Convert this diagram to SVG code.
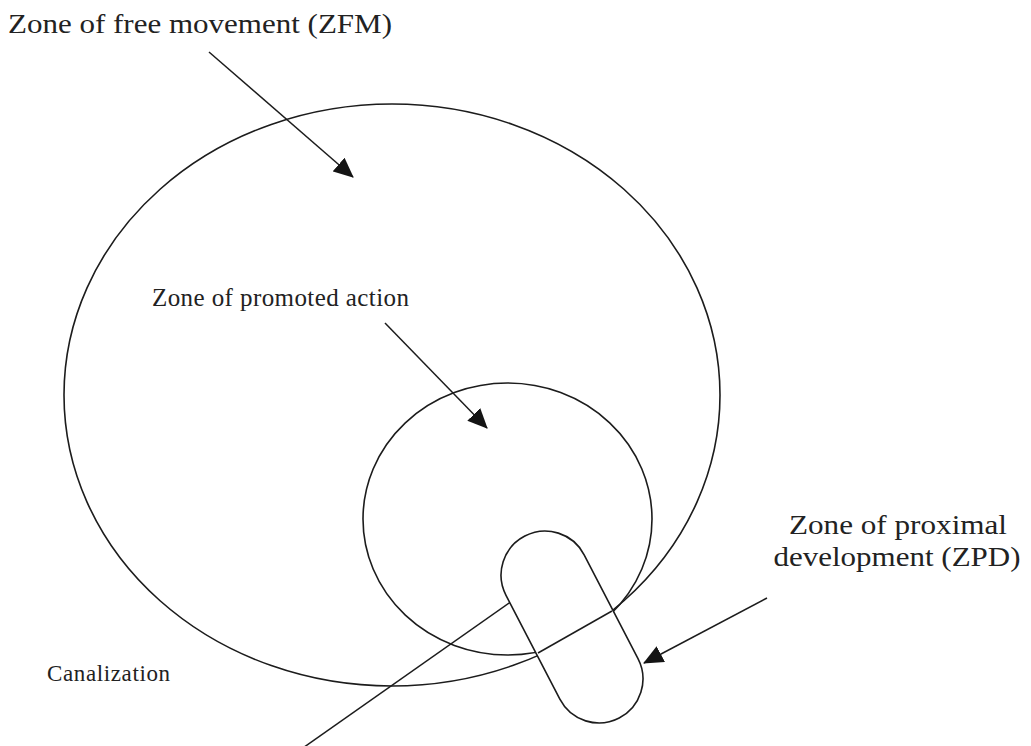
<svg xmlns="http://www.w3.org/2000/svg" width="1031" height="746" viewBox="0 0 1031 746">
  <style>
    .shape { fill: none; stroke: #1c1c1c; stroke-width: 1.6; }
    .pill { fill: #ffffff; stroke: #1c1c1c; stroke-width: 1.6; }
    .conn { fill: none; stroke: #1c1c1c; stroke-width: 1.5; }
    .lbl { font-family: "Liberation Serif", "Times New Roman", serif; fill: #222222; }
  </style>
  <defs>
    <marker id="ah" viewBox="0 0 20 18" refX="19" refY="9" markerWidth="20" markerHeight="18" markerUnits="userSpaceOnUse" orient="auto">
      <path d="M0,0 L20,9 L0,18 z" fill="#141414"/>
    </marker>
  </defs>
  <rect x="0" y="0" width="1031" height="746" fill="#ffffff"/>

  <g id="node-zfm">
    <ellipse class="shape" cx="392" cy="395" rx="328" ry="291"/>
  </g>
  <g id="node-zpa">
    <ellipse class="shape" cx="507.5" cy="519" rx="144.5" ry="136"/>
  </g>

  <g id="connectors">
    <line class="conn" x1="300" y1="750" x2="512" y2="601"/>
  </g>

  <g id="node-zpd">
    <rect class="pill" x="-102.5" y="-44" width="205" height="88" rx="44" ry="44" transform="translate(572,627) rotate(62.6)"/>
    <line class="conn" x1="538" y1="653" x2="612" y2="611"/>
  </g>

  <g id="arrows">
    <line class="conn" x1="209" y1="52" x2="353" y2="177" marker-end="url(#ah)"/>
    <line class="conn" x1="385" y1="323" x2="487" y2="428" marker-end="url(#ah)"/>
    <line class="conn" x1="767" y1="598" x2="644" y2="663" marker-end="url(#ah)"/>
  </g>

  <g id="label-zfm">
    <text class="lbl" x="8" y="33" font-size="28" textLength="384" lengthAdjust="spacingAndGlyphs">Zone of free movement (ZFM)</text>
  </g>
  <g id="label-zpa">
    <text class="lbl" x="152" y="306" font-size="25" textLength="257" lengthAdjust="spacing">Zone of promoted action</text>
  </g>
  <g id="label-zpd">
    <text class="lbl" x="898" y="534" font-size="28" text-anchor="middle" textLength="218" lengthAdjust="spacingAndGlyphs">Zone of proximal</text>
    <text class="lbl" x="897" y="566" font-size="28" text-anchor="middle" textLength="247" lengthAdjust="spacingAndGlyphs">development (ZPD)</text>
  </g>
  <g id="label-canalization">
    <text class="lbl" x="47" y="681" font-size="23" textLength="123" lengthAdjust="spacing">Canalization</text>
  </g>
</svg>
